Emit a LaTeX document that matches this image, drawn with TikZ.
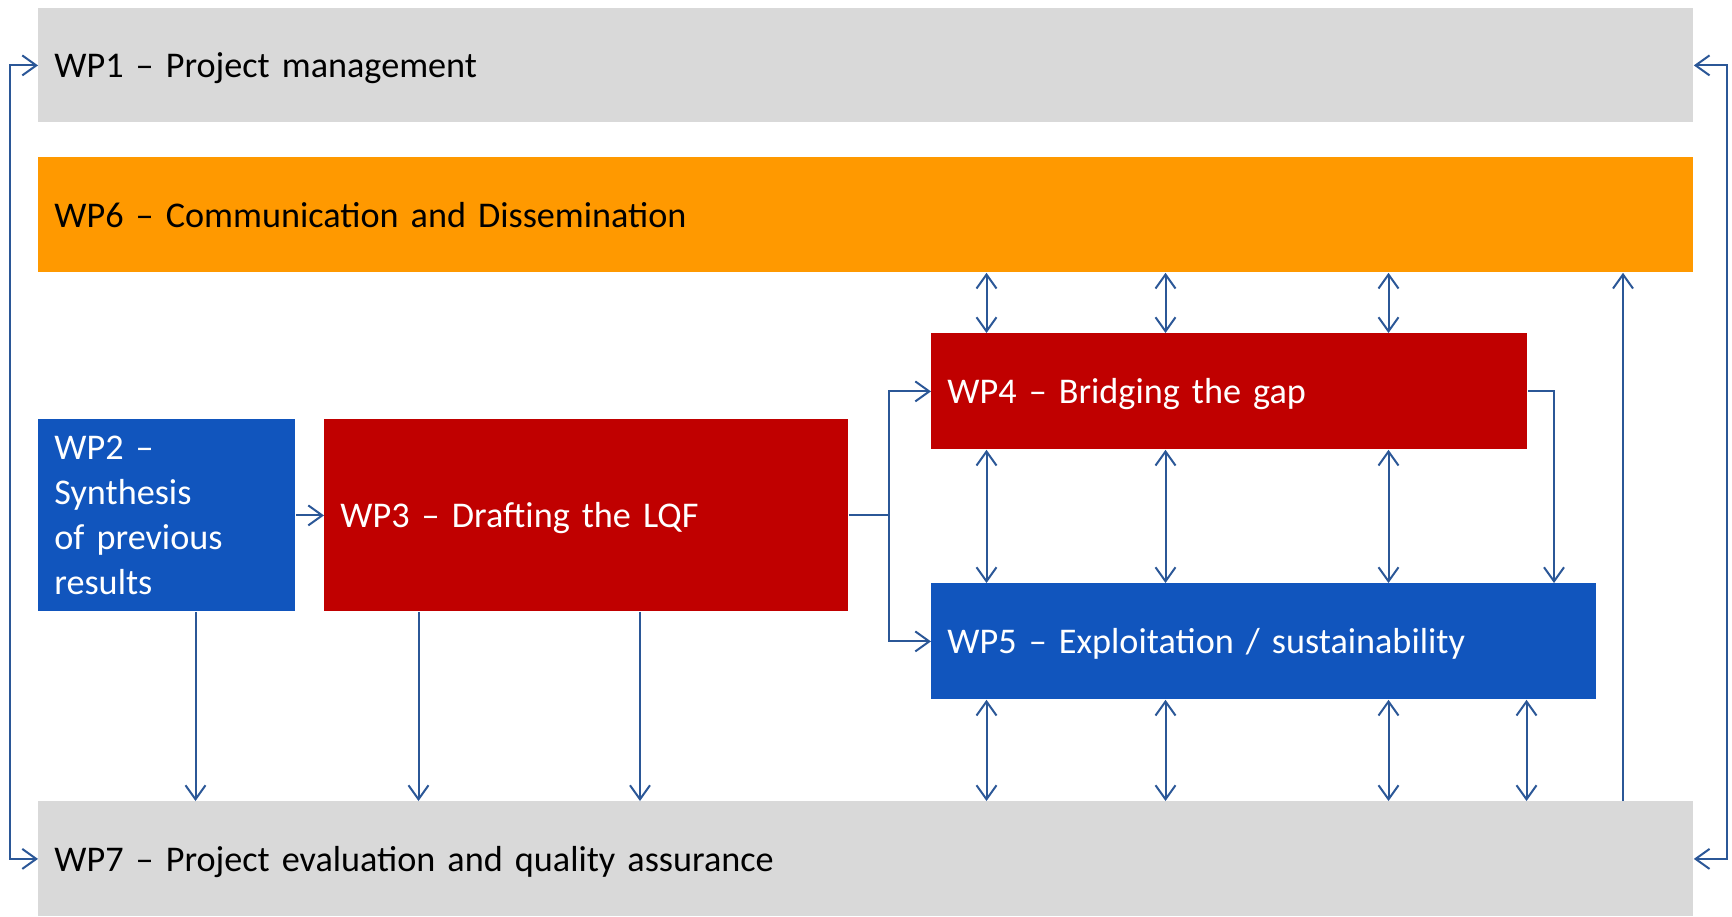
\documentclass[tikz,border=0pt]{standalone}
\usepackage{fontspec}
\setmainfont{Carlito}
\usetikzlibrary{arrows.meta}
\definecolor{wpgray}{HTML}{D9D9D9}
\definecolor{wporange}{HTML}{FF9900}
\definecolor{wpred}{HTML}{C00000}
\definecolor{wpblue}{HTML}{1155BD}
\definecolor{wpline}{HTML}{2B5797}
\begin{document}
\begin{tikzpicture}[x=0.5pt,y=-0.5pt,
  wpbox/.style={anchor=north west, inner xsep=8pt, inner ysep=0pt, align=left,
    font=\fontsize{18.1}{22.4}\selectfont},
  oneline/.style={wpbox, text depth=0pt},
  conn/.style={draw=wpline, line width=1pt, -{Straight Barb[length=7pt,width=10pt]}},
  biconn/.style={draw=wpline, line width=1pt,
    {Straight Barb[length=7pt,width=10pt]}-{Straight Barb[length=7pt,width=10pt]}}]
\useasboundingbox (0,0) rectangle (1732,916);
% boxes
\node[oneline, fill=wpgray, text width=811.5pt, minimum height=57pt] (wp1) at (38,8) {WP1 – Project management};
\node[oneline, fill=wporange, text width=811.5pt, minimum height=57.5pt] (wp6) at (38,157) {WP6 – Communication and Dissemination};
\node[wpbox, fill=wpblue, text=white, text width=112.5pt, minimum height=96pt] (wp2) at (38,419) {WP2 –\\Synthesis\\of previous\\results};
\node[oneline, fill=wpred, text=white, text width=246pt, minimum height=96pt] (wp3) at (324,419) {WP3 – Drafting the LQF};
\node[oneline, fill=wpred, text=white, text width=282pt, minimum height=58pt] (wp4) at (931,333) {WP4 – Bridging the gap};
\node[oneline, fill=wpblue, text=white, text width=316.5pt, minimum height=58pt] (wp5) at (931,583) {WP5 – Exploitation / sustainability};
\node[oneline, fill=wpgray, text width=811.5pt, minimum height=57.5pt] (wp7) at (38,801) {WP7 – Project evaluation and quality assurance};
% x positions of vertical connectors
\coordinate (xl) at (10,0);
\coordinate (xr) at (1726.5,0);
\coordinate (xa) at (986.5,0);
\coordinate (xb) at (1165.5,0);
\coordinate (xc) at (1388.5,0);
\coordinate (xd) at (1526.5,0);
\coordinate (xe) at (1554,0);
\coordinate (xf) at (1623,0);
\coordinate (xj) at (889,0);
\coordinate (x2) at (195.5,0);
\coordinate (x3a) at (418.5,0);
\coordinate (x3b) at (640,0);
% outer loops
\draw[biconn] (wp1.west) -- (wp1.west -| xl) -- (wp7.west -| xl) -- (wp7.west);
\draw[biconn] (wp1.east) -- (wp1.east -| xr) -- (wp7.east -| xr) -- (wp7.east);
% WP2 -> WP3
\draw[conn] (wp2.east) -- (wp3.west);
% WP3 -> WP4 / WP5
\draw[conn] (wp3.east) -- (wp3.east -| xj) |- (wp4.west);
\draw[conn] (wp3.east -| xj) |- (wp5.west);
% WP4 -> WP5
\draw[conn] (wp4.east) -| (wp5.north -| xe);
% double arrows
\foreach \c in {xa,xb,xc}{
  \draw[biconn] (wp6.south -| \c) -- (wp4.north -| \c);
  \draw[biconn] (wp4.south -| \c) -- (wp5.north -| \c);
}
\foreach \c in {xa,xb,xc,xd}{
  \draw[biconn] (wp5.south -| \c) -- (wp7.north -| \c);
}
% WP7 -> WP6
\draw[conn] (wp7.north -| xf) -- (wp6.south -| xf);
% WP2, WP3 -> WP7
\draw[conn] (wp2.south -| x2) -- (wp7.north -| x2);
\draw[conn] (wp3.south -| x3a) -- (wp7.north -| x3a);
\draw[conn] (wp3.south -| x3b) -- (wp7.north -| x3b);
\end{tikzpicture}
\end{document}
